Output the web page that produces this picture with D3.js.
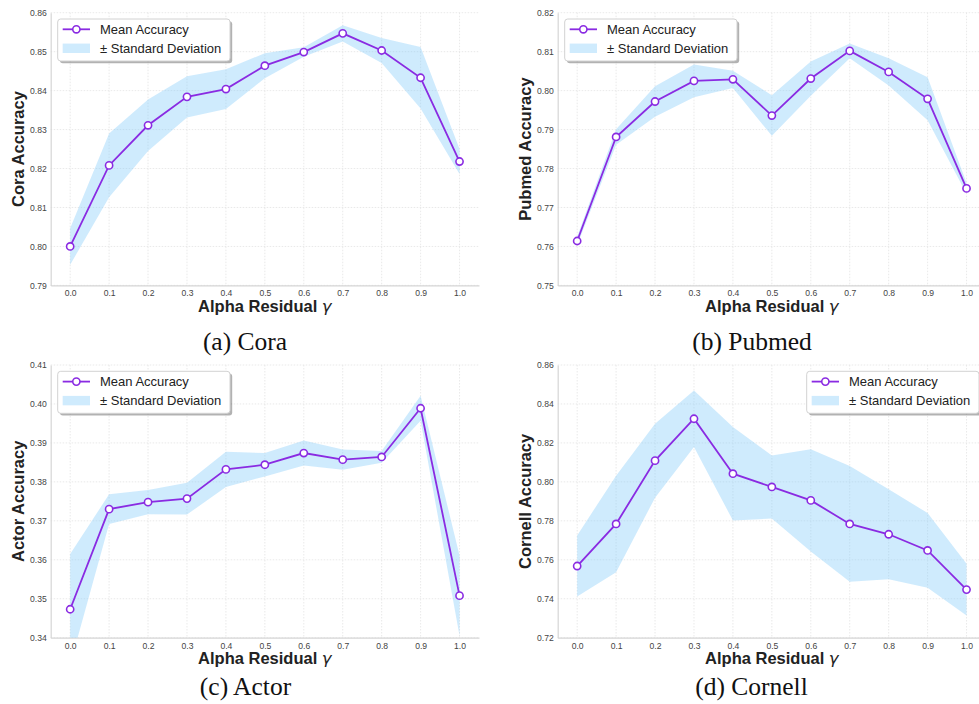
<!DOCTYPE html>
<html>
<head>
<meta charset="utf-8">
<script src="https://cdn.jsdelivr.net/npm/d3@7"></script>
<style>
  html, body { margin: 0; padding: 0; background: #fff; }
  svg { display: block; }
</style>
</head>
<body>
<script>
// Residual weight sweep
const alphas = [0.0, 0.1, 0.2, 0.3, 0.4, 0.5, 0.6, 0.7, 0.8, 0.9, 1.0];
const xTickLabels = ["0.0", "0.1", "0.2", "0.3", "0.4", "0.5", "0.6", "0.7", "0.8", "0.9", "1.0"];

// Cora
const coraMean = [0.8000, 0.8208, 0.8311, 0.8384, 0.8404, 0.8464, 0.8499, 0.8547, 0.8503, 0.8433, 0.8218];
const coraStd  = [0.0047, 0.0082, 0.0066, 0.0053, 0.0051, 0.0032, 0.0012, 0.0021, 0.0032, 0.0079, 0.0032];
const coraTicks = [0.79, 0.80, 0.81, 0.82, 0.83, 0.84, 0.85, 0.86];

// Pubmed
const pubmedMean = [0.7614, 0.7881, 0.7972, 0.8025, 0.8029, 0.7936, 0.8031, 0.8102, 0.8048, 0.7979, 0.7749];
const pubmedStd  = [0.0011, 0.0020, 0.0039, 0.0042, 0.0022, 0.0052, 0.0044, 0.0019, 0.0035, 0.0055, 0.0014];
const pubmedTicks = [0.75, 0.76, 0.77, 0.78, 0.79, 0.80, 0.81, 0.82];

// Actor
const actorMean = [0.3473, 0.3730, 0.3748, 0.3757, 0.3832, 0.3844, 0.3874, 0.3857, 0.3864, 0.3989, 0.3508];
const actorStd  = [0.0142, 0.0038, 0.0031, 0.0041, 0.0045, 0.0030, 0.0032, 0.0026, 0.0015, 0.0032, 0.0103];
const actorTicks = [0.34, 0.35, 0.36, 0.37, 0.38, 0.39, 0.40, 0.41];

// Cornell
const cornellMean = [0.7568, 0.7784, 0.8109, 0.8324, 0.8042, 0.7974, 0.7905, 0.7784, 0.7731, 0.7648, 0.7447];
const cornellStd  = [0.0157, 0.0248, 0.0190, 0.0145, 0.0240, 0.0162, 0.0263, 0.0297, 0.0231, 0.0192, 0.0133];
const cornellTicks = [0.72, 0.74, 0.76, 0.78, 0.80, 0.82, 0.84, 0.86];

const legendLabels = ["Mean Accuracy", "\u00B1 Standard Deviation"];

const W = 979, H = 704;
const LINE = "#8a2be2";
const BAND = "#87cefa";
const SANS = "'Liberation Sans', Arial, Helvetica, sans-serif";
const SERIF = "'Liberation Serif', 'Times New Roman', serif";
const MARKER_R = 3.6;

const svg = d3.select("body").append("svg")
  .attr("width", W).attr("height", H)
  .attr("viewBox", `0 0 ${W} ${H}`);

const defs = svg.append("defs");

const panels = [
  { id: "cora",    name: "Cora",    caption: "(a) Cora",    mean: coraMean,    std: coraStd,    ticks: coraTicks,
    left: 50.7,  top: 12.7, legend: "left",  capX: 245,   capY: 350 },
  { id: "pubmed",  name: "Pubmed",  caption: "(b) Pubmed",  mean: pubmedMean,  std: pubmedStd,  ticks: pubmedTicks,
    left: 557.7, top: 12.7, legend: "left",  capX: 752,   capY: 350 },
  { id: "actor",   name: "Actor",   caption: "(c) Actor",   mean: actorMean,   std: actorStd,   ticks: actorTicks,
    left: 50.7,  top: 365,  legend: "left",  capX: 245.5, capY: 695 },
  { id: "cornell", name: "Cornell", caption: "(d) Cornell", mean: cornellMean, std: cornellStd, ticks: cornellTicks,
    left: 557.7, top: 365,  legend: "right", capX: 751.5, capY: 695 }
];

const plotW = 428.3, plotH = 272.7;

panels.forEach(p => {
  const g = svg.append("g").attr("transform", `translate(${p.left},${p.top})`);

  const x = d3.scaleLinear().domain([-0.05, 1.05]).range([0, plotW]);
  const y = d3.scaleLinear().domain([p.ticks[0], p.ticks[p.ticks.length - 1]]).range([plotH, 0]);

  const clipId = `clip-${p.id}`;
  defs.append("clipPath").attr("id", clipId)
    .append("rect").attr("x", 0).attr("y", 0).attr("width", plotW).attr("height", plotH);

  // dotted grid
  const grid = g.append("g").attr("class", "grid");
  grid.selectAll("line.gy").data(p.ticks).join("line")
    .attr("class", "gy")
    .attr("x1", 0).attr("x2", plotW)
    .attr("y1", d => y(d)).attr("y2", d => y(d))
    .attr("stroke", "#e3e3e3").attr("stroke-width", 0.8)
    .attr("stroke-dasharray", "1.5,1.5");
  grid.selectAll("line.gx").data(alphas).join("line")
    .attr("class", "gx")
    .attr("y1", 0).attr("y2", plotH)
    .attr("x1", d => x(d)).attr("x2", d => x(d))
    .attr("stroke", "#e3e3e3").attr("stroke-width", 0.8)
    .attr("stroke-dasharray", "1.5,1.5");

  // axes (no tick marks, light spines on left and bottom)
  const yAxis = d3.axisLeft(y).tickValues(p.ticks).tickFormat(d3.format(".2f")).tickSize(0).tickPadding(4);
  const xAxis = d3.axisBottom(x).tickValues(alphas).tickFormat((d, i) => xTickLabels[i]).tickSize(0).tickPadding(5);

  const ya = g.append("g").call(yAxis);
  const xa = g.append("g").attr("transform", `translate(0,${plotH})`).call(xAxis);
  [ya, xa].forEach(a => {
    a.select(".domain").attr("stroke", "#d6d6d6").attr("stroke-width", 1.2);
    a.selectAll("text").attr("font-family", SANS).attr("font-size", 8.6).attr("fill", "#444");
  });

  const data = alphas.map((a, i) => ({ a, m: p.mean[i], s: p.std[i] }));

  // ± std band
  const area = d3.area()
    .x(d => x(d.a))
    .y0(d => y(d.m - d.s))
    .y1(d => y(d.m + d.s));
  g.append("path").datum(data)
    .attr("clip-path", `url(#${clipId})`)
    .attr("d", area)
    .attr("fill", BAND).attr("fill-opacity", 0.4);

  // mean line with hollow markers
  const line = d3.line().x(d => x(d.a)).y(d => y(d.m));
  g.append("path").datum(data)
    .attr("d", line)
    .attr("fill", "none").attr("stroke", LINE).attr("stroke-width", 1.8);
  g.selectAll("circle.pt").data(data).join("circle")
    .attr("class", "pt")
    .attr("cx", d => x(d.a)).attr("cy", d => y(d.m))
    .attr("r", MARKER_R).attr("fill", "#fff")
    .attr("stroke", LINE).attr("stroke-width", 1.6);

  // axis titles
  const xl = g.append("text")
    .attr("x", plotW / 2).attr("y", plotH + 26.5)
    .attr("text-anchor", "middle")
    .attr("font-family", SANS).attr("font-size", 16.5).attr("font-weight", "bold")
    .attr("fill", "#222");
  xl.append("tspan").text("Alpha Residual ");
  xl.append("tspan").attr("font-style", "italic").attr("font-weight", "normal")
    .attr("font-family", "'DejaVu Sans', sans-serif").text("\u03B3");

  g.append("text")
    .attr("transform", `translate(${-26.5},${plotH / 2}) rotate(-90)`)
    .attr("text-anchor", "middle")
    .attr("font-family", SANS).attr("font-size", 16.5).attr("font-weight", "bold")
    .attr("fill", "#222")
    .text(`${p.name} Accuracy`);

  // legend
  const lw = 172.3, lh = 42;
  const lx = p.legend === "left" ? 7 : plotW - 7 - lw;
  const ly = 6.3;
  const lg = g.append("g").attr("transform", `translate(${lx},${ly})`);
  lg.append("rect").attr("x", 2.2).attr("y", 2.2).attr("width", lw).attr("height", lh)
    .attr("rx", 3).attr("fill", "#000").attr("fill-opacity", 0.3);
  lg.append("rect").attr("x", 0).attr("y", 0).attr("width", lw).attr("height", lh)
    .attr("rx", 3).attr("fill", "#fff").attr("stroke", "#d2d2d2").attr("stroke-width", 1);

  lg.append("line").attr("x1", 5).attr("x2", 32.3).attr("y1", 10.3).attr("y2", 10.3)
    .attr("stroke", LINE).attr("stroke-width", 1.8);
  lg.append("circle").attr("cx", 18.65).attr("cy", 10.3).attr("r", MARKER_R)
    .attr("fill", "#fff").attr("stroke", LINE).attr("stroke-width", 1.6);
  lg.append("rect").attr("x", 5).attr("y", 24.6).attr("width", 27.3).attr("height", 9.4)
    .attr("fill", BAND).attr("fill-opacity", 0.4);

  lg.selectAll("text.lt").data(legendLabels).join("text")
    .attr("class", "lt")
    .attr("x", 42.3).attr("y", (d, i) => 14.8 + i * 19)
    .attr("font-family", SANS).attr("font-size", 13).attr("fill", "#222")
    .text(d => d);

  // caption
  svg.append("text")
    .attr("x", p.capX).attr("y", p.capY)
    .attr("text-anchor", "middle")
    .attr("font-family", SERIF).attr("font-size", 25.5).attr("fill", "#111")
    .text(p.caption);
});
</script>
</body>
</html>
